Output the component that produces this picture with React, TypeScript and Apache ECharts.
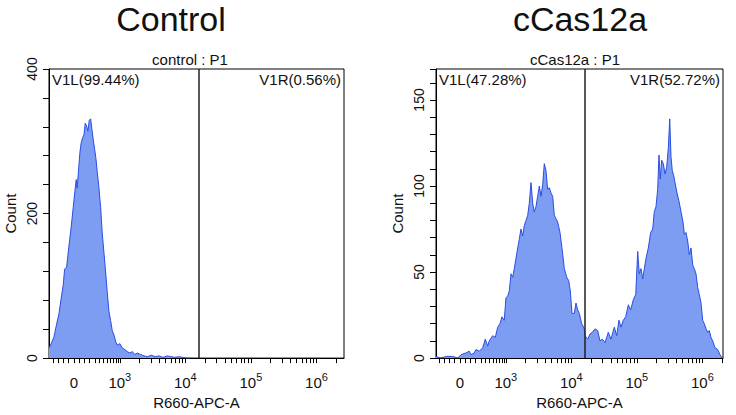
import React, { useEffect, useRef } from "react";
import * as echarts from "echarts";

// Display coordinate: 0 at "0", one unit per decade (logicle-like display scale)
const X_LABEL_POS = [0, 0.7, 1.7, 2.7, 3.7];
const X_LABEL_TEXT = ["0", "10|3", "10|4", "10|5", "10|6"];
const X_LINEAR_TICKS = [-0.32, -0.24, -0.16, -0.08, 0, 0.08, 0.16, 0.24, 0.32, 0.39, 0.45, 0.51, 0.56, 0.6, 0.64, 0.67];
const GATE = 1.91;

const CONTROL_TITLE = "Control";
const CONTROL_SUB = "control : P1";
const CONTROL_GATES = ["V1L(99.44%)", "V1R(0.56%)"];
const CONTROL_XRANGE = [-0.38, 4.12];
const CONTROL_YMAX = 400;
const CONTROL_X = [-0.38, -0.347, -0.305, -0.264, -0.229, -0.194, -0.163, -0.142, -0.111, -0.076, -0.041, -0.011, 0.015, 0.035, 0.05, 0.072, 0.092, 0.111, 0.133, 0.153, 0.173, 0.194, 0.214, 0.234, 0.255, 0.275, 0.295, 0.316, 0.336, 0.356, 0.382, 0.408, 0.432, 0.458, 0.484, 0.508, 0.534, 0.56, 0.585, 0.611, 0.637, 0.661, 0.702, 0.737, 0.774, 0.814, 0.855, 0.89, 0.927, 0.966, 1.018, 1.069, 1.12, 1.18, 1.24, 1.3, 1.36, 1.42, 1.48, 1.54, 1.6, 1.66, 1.72, 1.78];
const CONTROL_COUNT = [14, 20, 29, 47, 61, 83, 101, 123, 126, 155, 182, 208, 231, 247, 235, 262, 285, 298, 305, 309, 325, 321, 314, 329, 331, 316, 302, 289, 276, 258, 235, 208, 173, 146, 119, 92, 65, 52, 38, 32, 23, 18, 20, 14, 12, 9, 7, 9, 5, 7, 5, 3, 2, 4, 2, 3, 1, 3, 2, 1, 2, 1, 0, 0];

const CAS_TITLE = "cCas12a";
const CAS_SUB = "cCas12a : P1";
const CAS_GATES = ["V1L(47.28%)", "V1R(52.72%)"];
const CAS_XRANGE = [-0.366, 4.015];
const CAS_YMAX = 168;
const CAS_X = [-0.366, -0.3, -0.2, -0.112, -0.035, 0.015, 0.092, 0.142, 0.168, 0.218, 0.244, 0.295, 0.347, 0.386, 0.423, 0.447, 0.499, 0.539, 0.576, 0.611, 0.641, 0.676, 0.702, 0.728, 0.753, 0.779, 0.805, 0.829, 0.855, 0.881, 0.905, 0.931, 0.957, 0.982, 1.008, 1.034, 1.058, 1.084, 1.11, 1.134, 1.16, 1.186, 1.211, 1.237, 1.263, 1.287, 1.313, 1.339, 1.363, 1.389, 1.415, 1.44, 1.466, 1.492, 1.527, 1.557, 1.593, 1.629, 1.66, 1.684, 1.71, 1.745, 1.771, 1.797, 1.821, 1.858, 1.898, 1.908, 1.95, 1.985, 2.02, 2.061, 2.102, 2.137, 2.173, 2.214, 2.264, 2.305, 2.356, 2.392, 2.427, 2.458, 2.493, 2.53, 2.57, 2.606, 2.646, 2.683, 2.713, 2.737, 2.763, 2.789, 2.814, 2.84, 2.875, 2.911, 2.942, 2.966, 2.992, 3.018, 3.038, 3.058, 3.079, 3.104, 3.13, 3.156, 3.18, 3.202, 3.221, 3.241, 3.263, 3.282, 3.313, 3.344, 3.374, 3.405, 3.425, 3.45, 3.476, 3.501, 3.527, 3.553, 3.577, 3.603, 3.629, 3.653, 3.679, 3.705, 3.73, 3.756, 3.782, 3.806, 3.832, 3.858, 3.893, 3.934, 3.969, 4.004];
const CAS_COUNT = [1, 0, 1, 1, 0, 2, 3, 4, 2, 3, 5, 4, 6, 11, 7, 10, 13, 12, 18, 20, 24, 22, 35, 36, 39, 49, 47, 52, 58, 64, 69, 75, 71, 77, 80, 83, 90, 102, 90, 85, 88, 94, 100, 94, 101, 113, 109, 98, 99, 96, 94, 83, 81, 79, 73, 64, 52, 47, 45, 39, 26, 26, 32, 28, 26, 20, 17, 13, 11, 14, 15, 17, 16, 10, 11, 9, 15, 11, 18, 13, 22, 18, 22, 24, 31, 28, 34, 37, 62, 49, 52, 46, 52, 58, 64, 73, 75, 85, 88, 98, 118, 104, 115, 113, 107, 111, 122, 139, 117, 109, 106, 102, 96, 91, 85, 79, 72, 73, 68, 60, 64, 54, 52, 49, 41, 37, 32, 22, 20, 17, 15, 16, 12, 10, 6, 5, 2, 0];

const FONT = "'Liberation Sans', Arial, sans-serif";
const LINE = "#2a4de2";
const FILL = "#7d9df2";
const INK = "#111";

function xTicks(max: number) {
  const t = X_LINEAR_TICKS.slice();
  for (let k = 0; k < 4; k++) {
    for (let m = 1; m <= 9; m++) {
      const v = +(0.7 + k + Math.log10(m)).toFixed(4);
      if (v <= max) t.push(v);
    }
  }
  return t;
}

function panel(idx: number, left: number, width: number, xr: number[], ymax: number, yInterval: number, yLabels: number[], xs: number[], ys: number[], gates: string[]) {
  const grid = { left, top: 69, width, height: 297, show: true, borderColor: "#000", borderWidth: 1, backgroundColor: "transparent" };
  const xAxis = {
    gridIndex: idx,
    type: "value",
    min: xr[0],
    max: xr[1],
    splitLine: { show: false },
    axisLine: { onZero: false, lineStyle: { color: "#000", width: 1 } },
    axisTick: { customValues: xTicks(xr[1]), length: 5, lineStyle: { color: "#000" } },
    axisLabel: {
      customValues: X_LABEL_POS,
      margin: 13,
      color: INK,
      fontFamily: FONT,
      formatter: (v: number) => {
        const i = X_LABEL_POS.findIndex((p) => Math.abs(p - v) < 1e-6);
        const t = i >= 0 ? X_LABEL_TEXT[i] : "";
        const parts = t.split("|");
        return parts.length > 1 ? `{b|${parts[0]}}{s|${parts[1]}}` : `{b|${parts[0]}}`;
      },
      rich: {
        b: { fontSize: 15, fontFamily: FONT, color: INK, lineHeight: 19, verticalAlign: "bottom" },
        s: { fontSize: 11, fontFamily: FONT, color: INK, verticalAlign: "top", lineHeight: 11 },
      },
    },
    name: "R660-APC-A",
    nameLocation: "middle",
    nameGap: 34,
    nameTextStyle: { fontSize: 15, fontFamily: FONT, color: INK },
  };
  const yAxis = {
    gridIndex: idx,
    type: "value",
    min: 0,
    max: ymax,
    interval: yInterval,
    splitLine: { show: false },
    axisLine: { show: true, onZero: false, lineStyle: { color: "#000", width: 1 } },
    axisTick: { length: 6, lineStyle: { color: "#000" } },
    axisLabel: { customValues: yLabels, rotate: 90, margin: 10, fontSize: 14, fontFamily: FONT, color: INK },
    name: "Count",
    nameLocation: "middle",
    nameGap: 31,
    nameRotate: 90,
    nameTextStyle: { fontSize: 15, fontFamily: FONT, color: INK },
  };
  const series = {
    type: "line",
    xAxisIndex: idx,
    yAxisIndex: idx,
    data: xs.map((x, i) => [x, ys[i]]),
    symbol: "none",
    showSymbol: false,
    lineStyle: { color: LINE, width: 1 },
    areaStyle: { color: FILL, opacity: 1 },
    silent: true,
    markLine: {
      silent: true,
      symbol: "none",
      label: { show: false },
      lineStyle: { color: "#222", width: 1.5, type: "solid" },
      data: [{ xAxis: GATE }],
    },
    markArea: {
      silent: true,
      itemStyle: { color: "transparent" },
      data: [
        [
          { xAxis: xr[0], label: { show: true, position: "insideTopLeft", distance: 3, formatter: gates[0], fontSize: 15, fontFamily: FONT, color: INK } },
          { xAxis: GATE },
        ],
        [
          { xAxis: GATE, label: { show: true, position: "insideTopRight", distance: 3, formatter: gates[1], fontSize: 15, fontFamily: FONT, color: INK } },
          { xAxis: xr[1] },
        ],
      ],
    },
  };
  return { grid, xAxis, yAxis, series };
}

export default function App() {
  const ref = useRef<HTMLDivElement>(null);
  useEffect(() => {
    if (!ref.current) return;
    const chart = echarts.init(ref.current, undefined, { renderer: "svg" });
    const a = panel(0, 49, 295, CONTROL_XRANGE, CONTROL_YMAX, 40, [0, 200, 400], CONTROL_X, CONTROL_COUNT, CONTROL_GATES);
    const b = panel(1, 436, 287, CAS_XRANGE, CAS_YMAX, 10, [0, 50, 100, 150], CAS_X, CAS_COUNT, CAS_GATES);
    const txt = (x: number, y: number, text: string, size: number) => ({
      type: "text",
      x,
      y,
      style: { text, fontSize: size, fontFamily: FONT, fill: INK, align: "center", verticalAlign: "middle" },
    });
    chart.setOption({
      animation: false,
      backgroundColor: "#fff",
      grid: [a.grid, b.grid],
      xAxis: [a.xAxis, b.xAxis],
      yAxis: [a.yAxis, b.yAxis],
      series: [a.series, b.series],
      graphic: [
        txt(171, 19, CONTROL_TITLE, 34),
        txt(580, 19, CAS_TITLE, 34),
        txt(190, 59, CONTROL_SUB, 15),
        txt(575, 59, CAS_SUB, 15),
      ],
    });
    return () => chart.dispose();
  }, []);
  return <div ref={ref} style={{ position: "fixed", left: 0, top: 0, width: 736, height: 415, background: "#fff" }} />;
}
